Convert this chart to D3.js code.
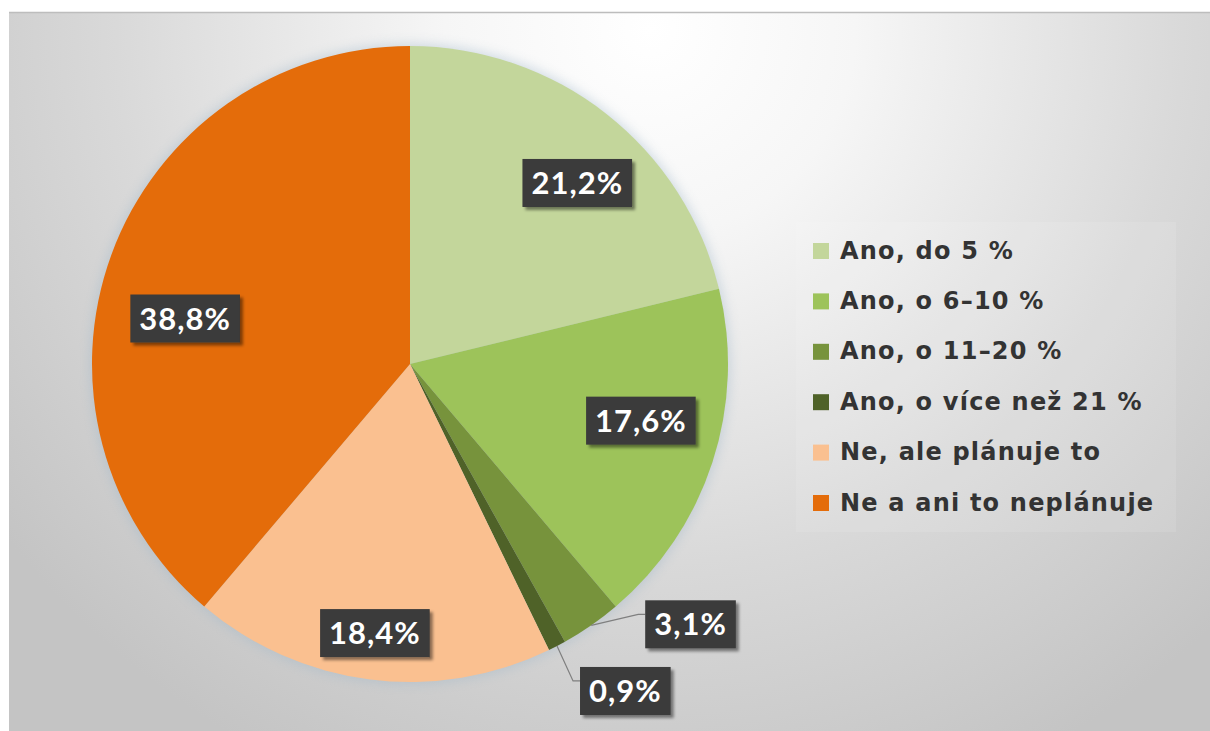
<!DOCTYPE html>
<html><head><meta charset="utf-8">
<script src="https://cdn.jsdelivr.net/npm/d3@7"></script>
<style>html,body{margin:0;padding:0;background:#fff;}svg{display:block;}</style>
</head><body>
<svg id="chart" width="1210" height="731"></svg>
<script>
const categories = ["Ano, do 5 %", "Ano, o 6–10 %", "Ano, o 11–20 %", "Ano, o více než 21 %", "Ne, ale plánuje to", "Ne a ani to neplánuje"];
const values = [21.2, 17.6, 3.1, 0.9, 18.4, 38.8];
const valueLabels = ["21,2%", "17,6%", "3,1%", "0,9%", "18,4%", "38,8%"];
const colors = ["#c3d69b", "#9dc35a", "#77933c", "#4f6228", "#fac090", "#e46c0a"];
// layout helpers (label placement nudges, px) – not data
const labelNudge = [[14, 14], [-5, -20], null, null, [-4, 23], [8, 40]];
const outsideLabel = { 2: {elbow: [47, -11]}, 3: {elbow: [16, 35]} };

const svg = d3.select("#chart");
const W = 1210, H = 731;
const defs = svg.append("defs");
const bg = defs.append("radialGradient").attr("id", "bg").attr("gradientUnits", "userSpaceOnUse")
  .attr("cx", 650).attr("cy", 30).attr("r", 820);
[[0, "#ffffff"], [0.25, "#f6f6f6"], [0.65, "#d9d9d9"], [1, "#c4c4c4"]].forEach(s =>
  bg.append("stop").attr("offset", s[0]).attr("stop-color", s[1]));
const sh = defs.append("filter").attr("id", "shadow").attr("x", "-20%").attr("y", "-20%").attr("width", "150%").attr("height", "150%");
sh.append("feDropShadow").attr("dx", 3).attr("dy", 3).attr("stdDeviation", 1.5).attr("flood-color", "#000").attr("flood-opacity", 0.45);
const glow = defs.append("filter").attr("id", "glow").attr("x", "-20%").attr("y", "-20%").attr("width", "140%").attr("height", "140%");
glow.append("feGaussianBlur").attr("stdDeviation", 6);

svg.append("rect").attr("x", 9).attr("y", 12).attr("width", W - 9).attr("height", H - 12).attr("fill", "url(#bg)");
svg.append("line").attr("x1", 9).attr("x2", W).attr("y1", 12.5).attr("y2", 12.5).attr("stroke", "#bdbdbd").attr("stroke-width", 1.5);

// legend backdrop
svg.append("rect").attr("x", 796).attr("y", 222).attr("width", 380).attr("height", 310).attr("fill", "#fff").attr("opacity", 0.1);

const cx = 410, cy = 364, R = 318;
const pie = d3.pie().sort(null).value(d => d)(values);
const arc = d3.arc().innerRadius(0).outerRadius(R);
const labelArc = d3.arc().innerRadius(R * 0.78).outerRadius(R * 0.78);
const g = svg.append("g").attr("transform", `translate(${cx},${cy})`);
g.append("circle").attr("r", R + 2).attr("fill", "#9fb6c8").attr("opacity", 0.45).attr("filter", "url(#glow)");
g.selectAll("path.slice").data(pie).join("path").attr("class", "slice")
  .attr("d", arc).attr("fill", (d, i) => colors[i]);

const fontLab = "Lato, 'DejaVu Sans', sans-serif";
function addText(sel, text) {
  return sel.append("text").attr("font-family", fontLab).attr("font-weight", 700).attr("font-size", 31)
    .attr("letter-spacing", 1).text(text);
}
function labelBox(x, y, text) {
  const lg = g.append("g").attr("transform", `translate(${x},${y})`);
  const rect = lg.append("rect").attr("fill", "#3a3a3a").attr("filter", "url(#shadow)");
  const t = addText(lg, text).attr("text-anchor", "middle").attr("dy", "0.36em").attr("fill", "#fff");
  const w = t.node().getComputedTextLength();
  rect.attr("x", -w / 2 - 9).attr("y", -24).attr("width", w + 18).attr("height", 48);
}
pie.forEach((d, i) => {
  if (outsideLabel[i]) {
    const mid = (d.startAngle + d.endAngle) / 2;
    const p0 = [R * Math.sin(mid), -R * Math.cos(mid)];
    const o = outsideLabel[i];
    const p1 = [p0[0] + o.elbow[0], p0[1] + o.elbow[1]];
    const p2 = [p1[0] + 7, p1[1]];
    g.append("polyline").attr("points", [p0, p1, p2].map(p => p.join(",")).join(" "))
      .attr("fill", "none").attr("stroke", "#7f7f7f").attr("stroke-width", 1.2);
    const tmp = addText(g, valueLabels[i]);
    const w = tmp.node().getComputedTextLength() + 18; tmp.remove();
    labelBox(p2[0] + w / 2, p1[1] + 10, valueLabels[i]);
  } else {
    const c = labelArc.centroid(d);
    labelBox(c[0] + labelNudge[i][0], c[1] + labelNudge[i][1], valueLabels[i]);
  }
});

// legend
const lgd = svg.append("g").attr("transform", "translate(813,0)");
const ly = d3.scalePoint().domain(categories).range([250, 502]);
categories.forEach((c, i) => {
  const y = ly(c);
  lgd.append("rect").attr("x", 0).attr("y", y - 7).attr("width", 16).attr("height", 16).attr("fill", colors[i]);
  lgd.append("text").attr("x", 27).attr("y", y).attr("dy", "0.36em")
    .attr("font-family", "'DejaVu Sans', sans-serif").attr("font-weight", 700).attr("font-size", 24)
    .attr("letter-spacing", 1.2).attr("fill", "#333").text(c);
});
</script>
</body></html>
